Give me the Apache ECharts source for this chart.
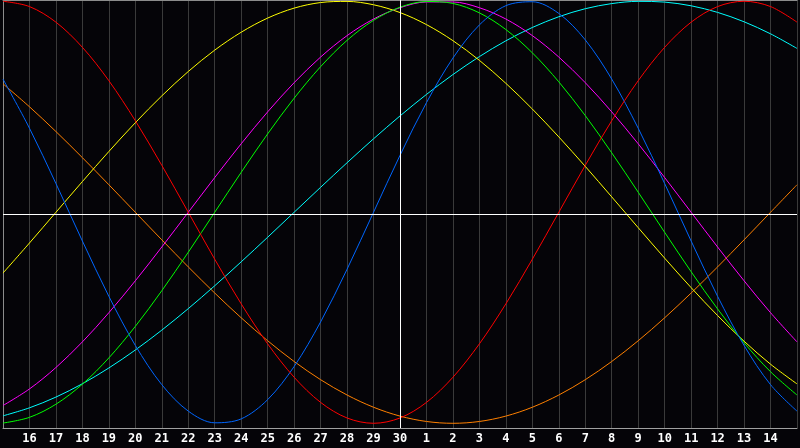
<!DOCTYPE html>
<html>
<head>
<meta charset="utf-8">
<script src="https://cdn.jsdelivr.net/npm/echarts@6/dist/echarts.min.js"></script>
<style>
html,body{margin:0;padding:0;background:#050408;}
#chart{width:800px;height:448px;}
</style>
</head>
<body>
<div id="chart"></div>
<script>
// Day labels along the bottom (x = 0 is day 15, x = 800 is the next 15)
const days = ['15','16','17','18','19','20','21','22','23','24','25','26','27','28','29','30',
              '1','2','3','4','5','6','7','8','9','10','11','12','13','14','15'];

// Curve values at every day line (-1 .. 1)
const redVals = [1,0.9749,0.9010,0.7818,0.6235,0.4339,0.2225,0,-0.2225,-0.4339,-0.6235,-0.7818,-0.9010,-0.9749,-1,
  -0.9749,-0.9010,-0.7818,-0.6235,-0.4339,-0.2225,0,0.2225,0.4339,0.6235,0.7818,0.9010,0.9749,1,0.9749,0.9010];
const blueVals = [0.6311,0.3984,0.1362,-0.1362,-0.3984,-0.6311,-0.8170,-0.9423,-0.9977,-0.9791,-0.8879,-0.7308,-0.5196,-0.2698,0,
  0.2698,0.5196,0.7308,0.8879,0.9791,0.9977,0.9423,0.8170,0.6311,0.3984,0.1362,-0.1362,-0.3984,-0.6311,-0.8170,-0.9423];
const greenVals = [-0.9989,-0.9718,-0.9096,-0.8147,-0.6901,-0.5406,-0.3717,-0.1893,0,0.1893,0.3717,0.5406,0.6901,0.8147,0.9096,
  0.9718,0.9989,0.9898,0.9450,0.8660,0.7557,0.6182,0.4582,0.2817,0.0951,-0.0951,-0.2817,-0.4582,-0.6182,-0.7557,-0.8660];
const magentaVals = [-0.9158,-0.8372,-0.7357,-0.6142,-0.4759,-0.3247,-0.1646,0,0.1646,0.3247,0.4759,0.6142,0.7357,0.8372,0.9158,
  0.9694,0.9966,0.9966,0.9694,0.9158,0.8372,0.7357,0.6142,0.4759,0.3247,0.1646,0,-0.1646,-0.3247,-0.4759,-0.6142];
const yellowVals = [-0.2881,-0.1456,0,0.1456,0.2881,0.4244,0.5517,0.6672,0.7685,0.8533,0.9204,0.9675,0.9940,0.9993,0.9834,
  0.9465,0.8894,0.8133,0.7200,0.6111,0.4894,0.3572,0.2175,0.0730,-0.0730,-0.2175,-0.3572,-0.4894,-0.6111,-0.7200,-0.8133];
const orangeVals = [0.6088,0.5,0.3827,0.2588,0.1305,0,-0.1305,-0.2588,-0.3827,-0.5,-0.6088,-0.7071,-0.7934,-0.8660,-0.9239,
  -0.9659,-0.9914,-1,-0.9914,-0.9659,-0.9239,-0.8660,-0.7934,-0.7071,-0.6088,-0.5,-0.3827,-0.2588,-0.1305,0,0.1305];
const cyanVals = [-0.9647,-0.9267,-0.8758,-0.8126,-0.7378,-0.6527,-0.5585,-0.4566,-0.3482,-0.2348,-0.1183,0,0.1183,0.2348,0.3482,
  0.4566,0.5585,0.6527,0.7378,0.8126,0.8758,0.9267,0.9647,0.9890,0.9996,0.9961,0.9786,0.9473,0.9028,0.8457,0.7765];

const seriesDefs = [
  {name:'orange', data:orangeVals, color:'#ff8000'},
  {name:'cyan', data:cyanVals, color:'#00ffff'},
  {name:'yellow', data:yellowVals, color:'#ffff00'},
  {name:'magenta', data:magentaVals, color:'#ff00ff'},
  {name:'green', data:greenVals, color:'#00ff00'},
  {name:'blue', data:blueVals, color:'#0066ff'},
  {name:'red', data:redVals, color:'#ff0000'}
];

const chart = echarts.init(document.getElementById('chart'), null, {renderer:'canvas'});

const series = seriesDefs.map(s => ({
  name: s.name,
  type: 'line',
  data: s.data,
  smooth: 0.33,
  symbol: 'none',
  lineStyle: {color: s.color, width: 1},
  itemStyle: {color: s.color},
  z: 3
}));

series.push({
  name: 'centre',
  type: 'line',
  data: [],
  z: 2,
  markLine: {
    silent: true,
    symbol: 'none',
    label: {show: false},
    lineStyle: {color: '#ffffff', width: 1, type: 'solid'},
    data: [{xAxis: 15}, {yAxis: -0.0105}]
  }
});

chart.setOption({
  backgroundColor: '#050408',
  animation: false,
  grid: {left: 0, right: 0, top: 0, height: 428, show: false},
  xAxis: [{
    type: 'category',
    data: days,
    boundaryGap: false,
    axisLine: {show: true, onZero: false, lineStyle: {color: '#a0a0a0', width: 1}},
    axisTick: {show: false},
    splitLine: {show: true, lineStyle: {color: '#3a3a3a', width: 1}},
    axisLabel: {
      interval: 0,
      color: '#ffffff',
      fontFamily: 'DejaVu Sans Mono',
      fontWeight: 'bold',
      fontSize: 12,
      margin: 5,
      formatter: (v, i) => (i === 0 || i === days.length - 1) ? '' : v
    }
  }, {
    type: 'category',
    data: days,
    position: 'top',
    boundaryGap: false,
    axisLine: {show: true, onZero: false, lineStyle: {color: '#8c8c8c', width: 1}},
    axisTick: {show: false},
    axisLabel: {show: false},
    splitLine: {show: false}
  }],
  yAxis: {
    type: 'value',
    min: -1.0223,
    max: 1.006,
    axisLine: {show: true, onZero: false, lineStyle: {color: '#8c8c8c', width: 1}},
    axisTick: {show: false},
    axisLabel: {show: false},
    splitLine: {show: false}
  },
  series: series
});
</script>
</body>
</html>
